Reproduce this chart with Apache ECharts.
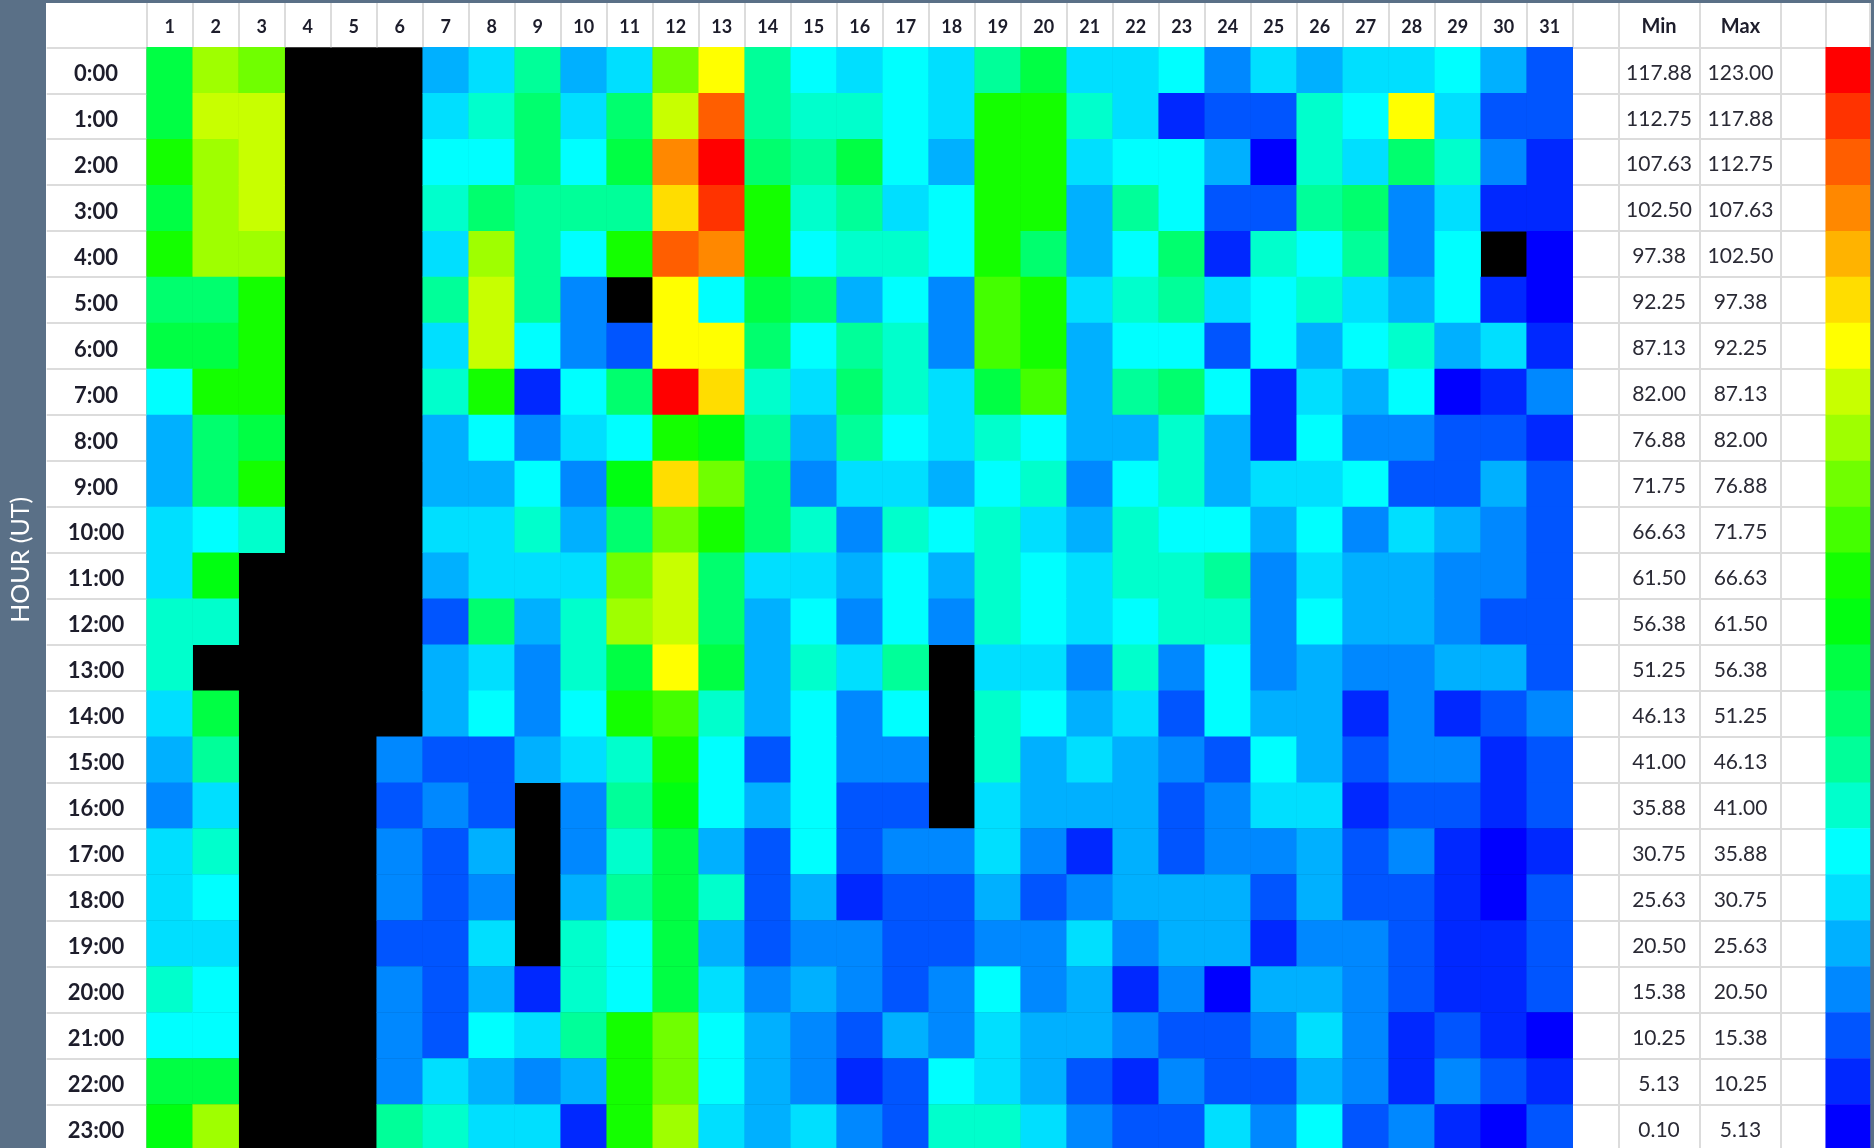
<!DOCTYPE html>
<html>
<head>
<meta charset="utf-8">
<style>html,body{margin:0;padding:0;background:#5a7087;overflow:hidden}#c{width:1874px;height:1148px}</style>
<script src="https://cdn.jsdelivr.net/npm/echarts@6/dist/echarts.min.js"></script>
</head>
<body>
<div id="c"></div>
<script>
const days = ['1','2','3','4','5','6','7','8','9','10','11','12','13','14','15','16','17','18','19','20','21','22','23','24','25','26','27','28','29','30','31'];
const hours = ['0:00','1:00','2:00','3:00','4:00','5:00','6:00','7:00','8:00','9:00','10:00','11:00','12:00','13:00','14:00','15:00','16:00','17:00','18:00','19:00','20:00','21:00','22:00','23:00'];
const binMin = [117.88,112.75,107.63,102.50,97.38,92.25,87.13,82.00,76.88,71.75,66.63,61.50,56.38,51.25,46.13,41.00,35.88,30.75,25.63,20.50,15.38,10.25,5.13,0.10];
const binMax = [123.00,117.88,112.75,107.63,102.50,97.38,92.25,87.13,82.00,76.88,71.75,66.63,61.50,56.38,51.25,46.13,41.00,35.88,30.75,25.63,20.50,15.38,10.25,5.13];
const binColors = ['#ff0000','#ff3300','#ff5e00','#ff8800','#ffb300','#ffdd00','#ffff00','#c8ff00','#9fff00','#70ff00','#44ff00','#14ff00','#00ff11','#00ff44','#00ff6e','#00ff99','#00ffcc','#00ffff','#00dfff','#00b0ff','#0088ff','#0055ff','#0028ff','#0000ff'];

const h00 = [53.8,79.4,74.3,null,null,null,23.1,28.2,43.6,23.1,28.2,74.3,89.7,43.6,33.3,28.2,33.3,28.2,43.6,53.8,28.2,28.2,33.3,17.9,28.2,23.1,28.2,28.2,33.3,23.1,12.8];
const h01 = [53.8,84.6,84.6,null,null,null,28.2,38.4,48.7,28.2,48.7,84.6,110.2,43.6,38.4,38.4,33.3,28.2,64.1,64.1,38.4,28.2,7.7,12.8,12.8,38.4,33.3,89.7,28.2,12.8,12.8];
const h02 = [64.1,79.4,84.6,null,null,null,33.3,33.3,48.7,33.3,53.8,105.1,120.4,48.7,43.6,53.8,33.3,23.1,64.1,64.1,28.2,33.3,33.3,23.1,2.6,38.4,28.2,48.7,38.4,17.9,7.7];
const h03 = [53.8,79.4,84.6,null,null,null,38.4,48.7,43.6,43.6,43.6,94.8,115.3,64.1,38.4,43.6,28.2,33.3,64.1,64.1,23.1,43.6,33.3,12.8,12.8,43.6,48.7,17.9,28.2,7.7,7.7];
const h04 = [64.1,79.4,79.4,null,null,null,28.2,79.4,43.6,33.3,64.1,110.2,105.1,64.1,33.3,38.4,38.4,33.3,64.1,48.7,23.1,33.3,48.7,7.7,38.4,33.3,43.6,17.9,33.3,null,2.6];
const h05 = [48.7,48.7,64.1,null,null,null,43.6,84.6,43.6,17.9,null,89.7,33.3,53.8,48.7,23.1,33.3,17.9,69.2,64.1,28.2,38.4,43.6,28.2,33.3,38.4,28.2,23.1,33.3,7.7,2.6];
const h06 = [53.8,53.8,64.1,null,null,null,28.2,84.6,33.3,17.9,12.8,89.7,89.7,48.7,33.3,43.6,38.4,17.9,69.2,64.1,23.1,33.3,33.3,12.8,33.3,23.1,33.3,38.4,23.1,28.2,7.7];
const h07 = [33.3,64.1,64.1,null,null,null,38.4,64.1,7.7,33.3,48.7,120.4,94.8,38.4,28.2,48.7,38.4,28.2,53.8,69.2,23.1,43.6,48.7,33.3,7.7,28.2,23.1,33.3,2.6,7.7,17.9];
const h08 = [23.1,48.7,53.8,null,null,null,23.1,33.3,17.9,28.2,33.3,64.1,58.9,43.6,23.1,43.6,33.3,28.2,38.4,33.3,23.1,23.1,38.4,23.1,7.7,33.3,17.9,17.9,12.8,12.8,7.7];
const h09 = [23.1,48.7,64.1,null,null,null,23.1,23.1,33.3,17.9,58.9,94.8,74.3,48.7,17.9,28.2,28.2,23.1,33.3,38.4,17.9,33.3,38.4,23.1,28.2,28.2,33.3,12.8,12.8,23.1,12.8];
const h10 = [28.2,33.3,38.4,null,null,null,28.2,28.2,38.4,23.1,48.7,74.3,64.1,48.7,38.4,17.9,38.4,33.3,38.4,28.2,23.1,38.4,33.3,33.3,23.1,33.3,17.9,28.2,23.1,17.9,12.8];
const h11 = [28.2,58.9,null,null,null,null,23.1,28.2,28.2,28.2,74.3,84.6,48.7,28.2,28.2,23.1,33.3,23.1,38.4,33.3,28.2,38.4,38.4,43.6,17.9,28.2,23.1,23.1,17.9,17.9,12.8];
const h12 = [38.4,38.4,null,null,null,null,12.8,48.7,23.1,38.4,79.4,84.6,48.7,23.1,33.3,17.9,33.3,17.9,38.4,33.3,28.2,33.3,38.4,38.4,17.9,33.3,23.1,23.1,17.9,12.8,12.8];
const h13 = [38.4,null,null,null,null,null,23.1,28.2,17.9,38.4,53.8,89.7,53.8,23.1,38.4,28.2,43.6,null,28.2,28.2,17.9,38.4,17.9,33.3,17.9,23.1,17.9,17.9,23.1,23.1,12.8];
const h14 = [28.2,53.8,null,null,null,null,23.1,33.3,17.9,33.3,64.1,69.2,38.4,23.1,33.3,17.9,33.3,null,38.4,33.3,23.1,28.2,12.8,33.3,23.1,23.1,7.7,17.9,7.7,12.8,17.9];
const h15 = [23.1,43.6,null,null,null,17.9,12.8,12.8,23.1,28.2,38.4,64.1,33.3,12.8,33.3,17.9,17.9,null,38.4,23.1,28.2,23.1,17.9,12.8,33.3,23.1,12.8,17.9,17.9,7.7,12.8];
const h16 = [17.9,28.2,null,null,null,12.8,17.9,12.8,null,17.9,43.6,58.9,33.3,23.1,33.3,12.8,12.8,null,28.2,23.1,23.1,23.1,12.8,17.9,28.2,28.2,7.7,12.8,12.8,7.7,12.8];
const h17 = [28.2,38.4,null,null,null,17.9,12.8,23.1,null,17.9,38.4,53.8,23.1,12.8,33.3,12.8,17.9,17.9,28.2,17.9,7.7,23.1,12.8,17.9,17.9,23.1,12.8,17.9,7.7,2.6,7.7];
const h18 = [28.2,33.3,null,null,null,17.9,12.8,17.9,null,23.1,43.6,53.8,38.4,12.8,23.1,7.7,12.8,12.8,23.1,12.8,17.9,23.1,23.1,23.1,12.8,23.1,12.8,12.8,7.7,2.6,12.8];
const h19 = [28.2,28.2,null,null,null,12.8,12.8,28.2,null,38.4,33.3,53.8,23.1,12.8,17.9,17.9,12.8,12.8,17.9,17.9,28.2,17.9,23.1,23.1,7.7,17.9,17.9,12.8,7.7,7.7,12.8];
const h20 = [38.4,33.3,null,null,null,17.9,12.8,23.1,7.7,38.4,33.3,53.8,28.2,17.9,23.1,17.9,12.8,17.9,33.3,17.9,23.1,7.7,17.9,2.6,23.1,23.1,17.9,12.8,7.7,7.7,12.8];
const h21 = [33.3,33.3,null,null,null,17.9,12.8,33.3,28.2,43.6,64.1,74.3,33.3,23.1,17.9,12.8,23.1,17.9,28.2,23.1,23.1,17.9,12.8,12.8,17.9,28.2,17.9,7.7,12.8,7.7,2.6];
const h22 = [53.8,53.8,null,null,null,17.9,28.2,23.1,17.9,23.1,64.1,74.3,33.3,23.1,17.9,7.7,12.8,33.3,28.2,23.1,12.8,7.7,17.9,12.8,12.8,23.1,17.9,7.7,17.9,12.8,7.7];
const h23 = [58.9,79.4,null,null,null,43.6,38.4,28.2,28.2,7.7,64.1,79.4,28.2,23.1,28.2,17.9,12.8,38.4,38.4,28.2,17.9,12.8,12.8,28.2,17.9,33.3,12.8,17.9,7.7,2.6,12.8];
const rows = [h00,h01,h02,h03,h04,h05,h06,h07,h08,h09,h10,h11,h12,h13,h14,h15,h16,h17,h18,h19,h20,h21,h22,h23];

const FONT = 'Lato, "Noto Sans", sans-serif';
const LINE = '#dcdcdc', INK = '#1d1d2b';
const TOP = 47.3, ROW_H = 45.96, H = ROW_H * 24, HEAD = 44.3;

const heatData = [];
rows.forEach((r, y) => r.forEach((v, x) => { if (v !== null) heatData.push([x, y, v]); }));
const tableData = [];
hours.forEach((_, y) => { tableData.push([0, y, binMin[y]]); tableData.push([1, y, binMax[y]]); });
const swatchData = hours.map((_, y) => [0, y, (binMin[y] + binMax[y]) / 2]);

function grid(left, width, black) {
  return { left, top: TOP, width, height: H, outerBoundsMode: 'none', show: !!black, backgroundColor: black ? '#000' : 'transparent', borderWidth: 0 };
}
function xAx(i, data, fontSize, split) {
  return {
    type: 'category', gridIndex: i, position: 'top', data,
    axisLine: { show: false },
    axisTick: { show: true, length: HEAD, lineStyle: { color: LINE, width: 2 } },
    axisLabel: {
      show: true, margin: 22, verticalAlign: 'middle',
      formatter: v => v === '' ? '' : `{a|${v}}`,
      rich: { a: { fontFamily: FONT, fontWeight: 'bold', fontSize: fontSize || 18, color: INK, padding: [3, 0, 0, 0] } }
    },
    splitLine: { show: !!split, lineStyle: { color: LINE, width: 2 } }
  };
}
function yAx(i, split, extra) {
  return Object.assign({
    type: 'category', gridIndex: i, inverse: true, data: hours,
    axisLine: { show: false }, axisTick: { show: false }, axisLabel: { show: false },
    splitLine: { show: !!split, lineStyle: { color: LINE, width: 2 } }
  }, extra || {});
}

const option = {
  animation: false,
  backgroundColor: '#5a7087',
  graphic: [{ type: 'rect', z: -100, silent: true, shape: { x: 46, y: 3, width: 1824, height: 1145 }, style: { fill: '#ffffff' } }],
  grid: [grid(146.7, 1426, true), grid(1572.7, 45.6), grid(1618.3, 162.9), grid(1781.2, 44.5), grid(1825.7, 44.3)],
  xAxis: [
    xAx(0, days),
    xAx(1, ['']),
    xAx(2, ['Min', 'Max'], 20, true),
    xAx(3, ['']),
    xAx(4, [''])
  ],
  yAxis: [
    yAx(0, false, {
      name: 'HOUR (UT)', nameLocation: 'middle', nameGap: 113.5, nameRotate: 90,
      nameTextStyle: { color: '#ffffff', fontFamily: FONT, fontWeight: 400, fontSize: 25, padding: [0, 0, 0, 78] },
      axisTick: { show: true, length: 100, lineStyle: { color: LINE, width: 2 } },
      axisLabel: {
        show: true, align: 'center', margin: 50.7,
        formatter: v => `{a|${v}}`,
        rich: { a: { fontFamily: FONT, fontWeight: 'bold', fontSize: 22, color: INK, padding: [7, 0, 0, 0] } }
      }
    }),
    yAx(1, true), yAx(2, true), yAx(3, true), yAx(4, false)
  ],
  visualMap: {
    type: 'piecewise', show: false, seriesIndex: [0, 2], dimension: 2,
    pieces: binMin.map((m, i) => ({ min: m, max: binMax[i], color: binColors[i] }))
  },
  series: [
    { name: 'Hourly value', type: 'heatmap', xAxisIndex: 0, yAxisIndex: 0, data: heatData, silent: true },
    { name: 'Bin limits', type: 'heatmap', xAxisIndex: 2, yAxisIndex: 2, data: tableData, silent: true,
      itemStyle: { color: 'rgba(255,255,255,0)' },
      label: {
        show: true, formatter: p => `{a|${p.value[2].toFixed(2)}}`,
        rich: { a: { fontFamily: FONT, fontSize: 21, color: '#2a2a35', padding: [5, 0, 0, 0] } }
      } },
    { name: 'Colour key', type: 'heatmap', xAxisIndex: 4, yAxisIndex: 4, data: swatchData, silent: true }
  ]
};
echarts.init(document.getElementById('c'), null, { renderer: 'canvas' }).setOption(option);
</script>
</body>
</html>
